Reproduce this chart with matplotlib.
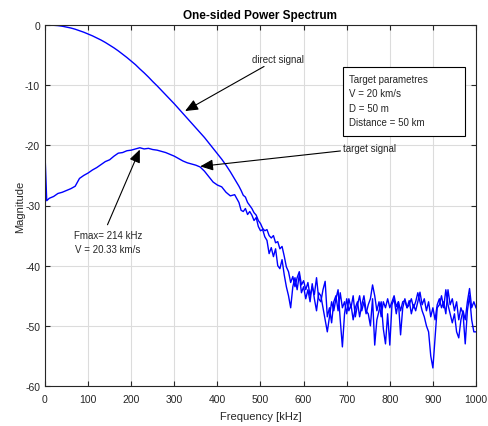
import numpy as np
import matplotlib
matplotlib.use("Agg")
import matplotlib.pyplot as plt
from matplotlib.patches import Rectangle

plt.rcParams['font.family'] = ['Liberation Sans', 'DejaVu Sans']
plt.rcParams['axes.unicode_minus'] = False

# ---------------- data ----------------
direct_freq = np.concatenate([np.arange(0, 450, 10), np.arange(450, 1001, 5)])
direct_smooth = [0.0, 0.0, -0.05, -0.1, -0.2, -0.35, -0.5, -0.7, -0.95, -1.2,
                 -1.5, -1.8, -2.15, -2.5, -2.9, -3.35, -3.8, -4.3, -4.85, -5.4,
                 -6.0, -6.6, -7.3, -7.95, -8.65, -9.4, -10.1, -10.85, -11.6, -12.35,
                 -13.1, -13.9, -14.7, -15.5, -16.3, -17.1, -17.9, -18.7, -19.6, -20.5,
                 -21.4, -22.3, -23.3, -24.4, -25.6]
direct_mid = [-26.8, -27.5, -28.3, -28.6, -29.5, -30.0, -30.5, -31.2, -31.6, -32.5,
              -33.0, -33.8, -34.2, -34.0, -35.0, -35.4, -35.0, -36.2, -36.0, -37.2,
              -36.8, -38.4, -40.2, -41.0, -42.8, -41.8, -43.5, -42.0, -41.0, -43.2]
direct_noise = [-42.5, -44.0, -42.8, -45.0, -43.5, -44.8, -42.0, -45.5, -46.0, -44.0,
                -42.6, -48.5, -47.0, -49.5, -46.0, -45.0, -47.5, -44.5, -47.0, -46.0,
                -48.0, -45.5, -47.0, -45.0, -48.5, -46.5, -45.0, -47.5, -46.0, -48.0,
                -46.5, -45.5, -43.2, -45.0, -47.5, -46.0, -48.5, -46.0, -47.0, -45.5,
                -47.0, -46.0, -45.0, -46.8, -46.0, -47.5, -46.0, -45.8, -47.0, -46.5,
                -45.5, -47.0, -46.0, -44.5, -46.0, -47.5, -48.5, -50.0, -51.0, -55.0,
                -57.0, -52.0, -47.0, -46.5, -45.0, -47.0, -44.0, -46.5, -48.0, -49.5,
                -48.0, -51.0, -52.0, -49.0, -47.5, -49.0, -46.0, -43.8, -47.0, -46.0,
                -47.0]
direct_mag = direct_smooth + direct_mid + direct_noise

target_freq = np.concatenate([[0, 4], np.arange(10, 450, 10), np.arange(450, 1001, 5)])
target_smooth = [-21.5, -29.2, -28.8, -28.5, -28.0, -27.8, -27.5, -27.2, -26.8, -25.5,
                 -25.0, -24.6, -24.1, -23.7, -23.2, -22.7, -22.4, -21.8, -21.3, -21.2,
                 -20.9, -20.8, -20.6, -20.4, -20.6, -20.5, -20.7, -20.8, -21.0, -21.2,
                 -21.5, -21.8, -22.2, -22.6, -22.9, -23.1, -23.3, -23.6, -24.3, -25.2,
                 -26.1, -26.6, -26.9, -27.8, -28.4, -28.2]
target_mid = [-29.5, -30.8, -31.0, -30.5, -31.5, -31.0, -31.6, -32.5, -32.0, -33.5,
              -34.2, -34.0, -35.2, -35.8, -38.0, -37.0, -38.5, -37.2, -40.0, -40.5,
              -39.0, -41.5, -43.5, -45.0, -47.0, -43.5, -42.0, -44.0, -41.5, -44.5]
target_noise = [-43.5, -45.5, -44.0, -46.0, -43.0, -45.5, -47.5, -44.5, -45.0, -47.0,
                -49.0, -51.0, -48.5, -46.0, -47.5, -45.5, -44.0, -49.0, -53.5, -48.0,
                -45.5, -47.5, -46.5, -49.0, -47.0, -46.0, -48.5, -46.5, -45.0, -47.5,
                -48.0, -50.0, -45.5, -53.2, -49.0, -47.5, -46.0, -50.5, -53.0, -48.0,
                -53.2, -46.5, -45.5, -48.0, -46.0, -51.5, -47.0, -45.5, -47.0, -45.8,
                -48.0, -46.5, -47.5, -46.0, -44.4, -46.5, -45.5, -47.5, -46.0, -48.5,
                -47.0, -49.0, -46.5, -45.5, -47.0, -46.0, -48.0, -44.0, -46.5, -45.5,
                -47.5, -46.0, -49.0, -47.0, -48.0, -53.0, -47.5, -45.0, -49.0, -51.0,
                -51.0]
target_mag = target_smooth + target_mid + target_noise

x_ticks = [0, 100, 200, 300, 400, 500, 600, 700, 800, 900, 1000]
y_ticks = [0, -10, -20, -30, -40, -50, -60]

title = "One-sided Power Spectrum"
x_label = "Frequency [kHz]"
y_label = "Magnitude"
box_lines = ["Target parametres", "V = 20 km/s", "D = 50 m", "Distance = 50 km"]
peak_text = "Fmax= 214 kHz\nV = 20.33 km/s"

# ---------------- figure ----------------
fig = plt.figure(figsize=(4.89, 4.27), dpi=100)
ax = fig.add_axes([45/489, 40/427, 431/489, 361/427])

ax.plot(direct_freq, direct_mag, color=(0, 0, 1), lw=1.0)
ax.plot(target_freq, target_mag, color=(0, 0, 1), lw=1.0)

ax.set_xlim(0, 1000)
ax.set_ylim(-60, 0)
ax.set_xticks(x_ticks)
ax.set_yticks(y_ticks)
ax.grid(True, color='#dcdcdc', lw=0.8)
ax.set_axisbelow(True)
axc = '#262626'
for s in ax.spines.values():
    s.set_color(axc)
    s.set_linewidth(0.8)
ax.tick_params(direction='in', length=3.5, width=0.8, colors=axc, labelsize=7.5,
               top=True, right=True, labelcolor=axc)
ax.tick_params(axis='x', pad=6)

ax.set_title(title, fontsize=8.5, fontweight='bold', color='black', pad=5)
ax.set_xlabel(x_label, fontsize=8, color=axc, labelpad=5)
ax.set_ylabel(y_label, fontsize=8, color=axc, labelpad=0)

ap = dict(arrowstyle='-|>,head_length=0.65,head_width=0.28', color='black', lw=0.8,
          mutation_scale=12, shrinkA=0, shrinkB=0)
ax.annotate("direct signal", xy=(325, -14.3), xytext=(480, -5.6),
            fontsize=7, color=axc, ha='left', va='center', arrowprops=ap)
ax.annotate("target signal", xy=(360, -23.5), xytext=(692, -20.4),
            fontsize=7, color=axc, ha='left', va='center', arrowprops=ap)
ax.text(146, -36.0, peak_text, fontsize=7, color=axc, ha='center', va='center',
        linespacing=1.5)
ax.annotate("", xy=(220, -20.7), xytext=(145, -33.2), arrowprops=ap)

ax.add_patch(Rectangle((0.692, 0.693), 0.282, 0.190, transform=ax.transAxes,
                       fc='white', ec='black', lw=0.8, zorder=5))
box_y = [-9.0, -11.35, -13.75, -16.1]
for line, yy in zip(box_lines, box_y):
    ax.text(705, yy, line, fontsize=7, color=axc, ha='left', va='center', zorder=6)

fig.savefig("out.png", dpi=100)
